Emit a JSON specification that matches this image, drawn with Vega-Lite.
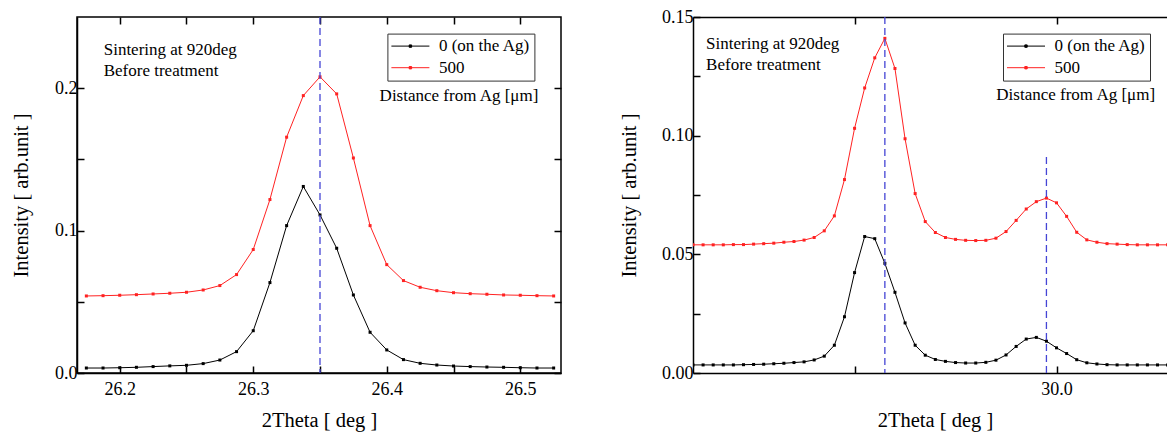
{
  "$schema": "https://vega.github.io/schema/vega-lite/v6.json",
  "padding": {"left": 10, "top": 8, "right": 0, "bottom": 0},
  "background": "white",
  "config": {
    "font": "Liberation Serif",
    "view": {"stroke": null},
    "axis": {
      "labelFont": "Liberation Serif", "labelFontSize": 18, "labelColor": "black",
      "titleFont": "Liberation Serif", "titleFontSize": 20.5, "titleFontWeight": "normal", "titleColor": "black",
      "domainColor": "black", "domainWidth": 1.5, "tickColor": "black", "tickWidth": 1.5, "grid": false
    },
    "legend": {
      "labelFont": "Liberation Serif", "labelFontSize": 17, "labelColor": "black",
      "strokeColor": "#333333", "padding": 4, "rowPadding": 3.6
    },
    "text": {"font": "Liberation Serif", "fontSize": 17, "color": "black"}
  },
  "datasets": {
    "left": [
      {"theta": 26.175, "intensity": 0.0035, "sample": "0 (on the Ag)"},
      {"theta": 26.1875, "intensity": 0.0035, "sample": "0 (on the Ag)"},
      {"theta": 26.2, "intensity": 0.0037, "sample": "0 (on the Ag)"},
      {"theta": 26.2125, "intensity": 0.004, "sample": "0 (on the Ag)"},
      {"theta": 26.225, "intensity": 0.0045, "sample": "0 (on the Ag)"},
      {"theta": 26.2375, "intensity": 0.005, "sample": "0 (on the Ag)"},
      {"theta": 26.25, "intensity": 0.0054, "sample": "0 (on the Ag)"},
      {"theta": 26.2625, "intensity": 0.0066, "sample": "0 (on the Ag)"},
      {"theta": 26.275, "intensity": 0.0091, "sample": "0 (on the Ag)"},
      {"theta": 26.2875, "intensity": 0.015, "sample": "0 (on the Ag)"},
      {"theta": 26.3, "intensity": 0.0297, "sample": "0 (on the Ag)"},
      {"theta": 26.3125, "intensity": 0.0635, "sample": "0 (on the Ag)"},
      {"theta": 26.325, "intensity": 0.1035, "sample": "0 (on the Ag)"},
      {"theta": 26.3375, "intensity": 0.131, "sample": "0 (on the Ag)"},
      {"theta": 26.35, "intensity": 0.111, "sample": "0 (on the Ag)"},
      {"theta": 26.3625, "intensity": 0.0876, "sample": "0 (on the Ag)"},
      {"theta": 26.375, "intensity": 0.0548, "sample": "0 (on the Ag)"},
      {"theta": 26.3875, "intensity": 0.0286, "sample": "0 (on the Ag)"},
      {"theta": 26.4, "intensity": 0.0162, "sample": "0 (on the Ag)"},
      {"theta": 26.4125, "intensity": 0.0094, "sample": "0 (on the Ag)"},
      {"theta": 26.425, "intensity": 0.0068, "sample": "0 (on the Ag)"},
      {"theta": 26.4375, "intensity": 0.0056, "sample": "0 (on the Ag)"},
      {"theta": 26.45, "intensity": 0.0049, "sample": "0 (on the Ag)"},
      {"theta": 26.4625, "intensity": 0.0045, "sample": "0 (on the Ag)"},
      {"theta": 26.475, "intensity": 0.0042, "sample": "0 (on the Ag)"},
      {"theta": 26.4875, "intensity": 0.004, "sample": "0 (on the Ag)"},
      {"theta": 26.5, "intensity": 0.0037, "sample": "0 (on the Ag)"},
      {"theta": 26.5125, "intensity": 0.0035, "sample": "0 (on the Ag)"},
      {"theta": 26.525, "intensity": 0.0035, "sample": "0 (on the Ag)"},
      {"theta": 26.175, "intensity": 0.0541, "sample": "500"},
      {"theta": 26.1875, "intensity": 0.0543, "sample": "500"},
      {"theta": 26.2, "intensity": 0.0546, "sample": "500"},
      {"theta": 26.2125, "intensity": 0.055, "sample": "500"},
      {"theta": 26.225, "intensity": 0.0555, "sample": "500"},
      {"theta": 26.2375, "intensity": 0.056, "sample": "500"},
      {"theta": 26.25, "intensity": 0.0567, "sample": "500"},
      {"theta": 26.2625, "intensity": 0.0583, "sample": "500"},
      {"theta": 26.275, "intensity": 0.0614, "sample": "500"},
      {"theta": 26.2875, "intensity": 0.0691, "sample": "500"},
      {"theta": 26.3, "intensity": 0.0867, "sample": "500"},
      {"theta": 26.3125, "intensity": 0.1218, "sample": "500"},
      {"theta": 26.325, "intensity": 0.1656, "sample": "500"},
      {"theta": 26.3375, "intensity": 0.1948, "sample": "500"},
      {"theta": 26.35, "intensity": 0.208, "sample": "500"},
      {"theta": 26.3625, "intensity": 0.196, "sample": "500"},
      {"theta": 26.375, "intensity": 0.151, "sample": "500"},
      {"theta": 26.3875, "intensity": 0.1035, "sample": "500"},
      {"theta": 26.4, "intensity": 0.0761, "sample": "500"},
      {"theta": 26.4125, "intensity": 0.0649, "sample": "500"},
      {"theta": 26.425, "intensity": 0.0602, "sample": "500"},
      {"theta": 26.4375, "intensity": 0.0578, "sample": "500"},
      {"theta": 26.45, "intensity": 0.0564, "sample": "500"},
      {"theta": 26.4625, "intensity": 0.0557, "sample": "500"},
      {"theta": 26.475, "intensity": 0.0553, "sample": "500"},
      {"theta": 26.4875, "intensity": 0.0548, "sample": "500"},
      {"theta": 26.5, "intensity": 0.0546, "sample": "500"},
      {"theta": 26.5125, "intensity": 0.0543, "sample": "500"},
      {"theta": 26.525, "intensity": 0.0541, "sample": "500"}
    ],
    "right": [
      {"theta": 29.1, "intensity": 0.0034, "sample": "0 (on the Ag)"},
      {"theta": 29.125, "intensity": 0.0034, "sample": "0 (on the Ag)"},
      {"theta": 29.15, "intensity": 0.0034, "sample": "0 (on the Ag)"},
      {"theta": 29.175, "intensity": 0.0034, "sample": "0 (on the Ag)"},
      {"theta": 29.2, "intensity": 0.0034, "sample": "0 (on the Ag)"},
      {"theta": 29.225, "intensity": 0.0035, "sample": "0 (on the Ag)"},
      {"theta": 29.25, "intensity": 0.0036, "sample": "0 (on the Ag)"},
      {"theta": 29.275, "intensity": 0.0037, "sample": "0 (on the Ag)"},
      {"theta": 29.3, "intensity": 0.0039, "sample": "0 (on the Ag)"},
      {"theta": 29.325, "intensity": 0.0041, "sample": "0 (on the Ag)"},
      {"theta": 29.35, "intensity": 0.0044, "sample": "0 (on the Ag)"},
      {"theta": 29.375, "intensity": 0.0047, "sample": "0 (on the Ag)"},
      {"theta": 29.4, "intensity": 0.0055, "sample": "0 (on the Ag)"},
      {"theta": 29.425, "intensity": 0.0071, "sample": "0 (on the Ag)"},
      {"theta": 29.45, "intensity": 0.0117, "sample": "0 (on the Ag)"},
      {"theta": 29.475, "intensity": 0.0237, "sample": "0 (on the Ag)"},
      {"theta": 29.5, "intensity": 0.0423, "sample": "0 (on the Ag)"},
      {"theta": 29.525, "intensity": 0.0575, "sample": "0 (on the Ag)"},
      {"theta": 29.55, "intensity": 0.0566, "sample": "0 (on the Ag)"},
      {"theta": 29.575, "intensity": 0.0462, "sample": "0 (on the Ag)"},
      {"theta": 29.6, "intensity": 0.034, "sample": "0 (on the Ag)"},
      {"theta": 29.625, "intensity": 0.0211, "sample": "0 (on the Ag)"},
      {"theta": 29.65, "intensity": 0.0117, "sample": "0 (on the Ag)"},
      {"theta": 29.675, "intensity": 0.0075, "sample": "0 (on the Ag)"},
      {"theta": 29.7, "intensity": 0.0057, "sample": "0 (on the Ag)"},
      {"theta": 29.725, "intensity": 0.0049, "sample": "0 (on the Ag)"},
      {"theta": 29.75, "intensity": 0.0044, "sample": "0 (on the Ag)"},
      {"theta": 29.775, "intensity": 0.0042, "sample": "0 (on the Ag)"},
      {"theta": 29.8, "intensity": 0.0042, "sample": "0 (on the Ag)"},
      {"theta": 29.825, "intensity": 0.0045, "sample": "0 (on the Ag)"},
      {"theta": 29.85, "intensity": 0.0054, "sample": "0 (on the Ag)"},
      {"theta": 29.875, "intensity": 0.0076, "sample": "0 (on the Ag)"},
      {"theta": 29.9, "intensity": 0.0112, "sample": "0 (on the Ag)"},
      {"theta": 29.925, "intensity": 0.0143, "sample": "0 (on the Ag)"},
      {"theta": 29.95, "intensity": 0.015, "sample": "0 (on the Ag)"},
      {"theta": 29.975, "intensity": 0.0134, "sample": "0 (on the Ag)"},
      {"theta": 30.0, "intensity": 0.0106, "sample": "0 (on the Ag)"},
      {"theta": 30.025, "intensity": 0.0082, "sample": "0 (on the Ag)"},
      {"theta": 30.05, "intensity": 0.0056, "sample": "0 (on the Ag)"},
      {"theta": 30.075, "intensity": 0.0043, "sample": "0 (on the Ag)"},
      {"theta": 30.1, "intensity": 0.0038, "sample": "0 (on the Ag)"},
      {"theta": 30.125, "intensity": 0.0035, "sample": "0 (on the Ag)"},
      {"theta": 30.15, "intensity": 0.0034, "sample": "0 (on the Ag)"},
      {"theta": 30.175, "intensity": 0.0034, "sample": "0 (on the Ag)"},
      {"theta": 30.2, "intensity": 0.0034, "sample": "0 (on the Ag)"},
      {"theta": 30.225, "intensity": 0.0034, "sample": "0 (on the Ag)"},
      {"theta": 30.25, "intensity": 0.0034, "sample": "0 (on the Ag)"},
      {"theta": 30.275, "intensity": 0.0034, "sample": "0 (on the Ag)"},
      {"theta": 29.1, "intensity": 0.054, "sample": "500"},
      {"theta": 29.125, "intensity": 0.054, "sample": "500"},
      {"theta": 29.15, "intensity": 0.054, "sample": "500"},
      {"theta": 29.175, "intensity": 0.054, "sample": "500"},
      {"theta": 29.2, "intensity": 0.0541, "sample": "500"},
      {"theta": 29.225, "intensity": 0.0541, "sample": "500"},
      {"theta": 29.25, "intensity": 0.0543, "sample": "500"},
      {"theta": 29.275, "intensity": 0.0545, "sample": "500"},
      {"theta": 29.3, "intensity": 0.0547, "sample": "500"},
      {"theta": 29.325, "intensity": 0.0551, "sample": "500"},
      {"theta": 29.35, "intensity": 0.0554, "sample": "500"},
      {"theta": 29.375, "intensity": 0.056, "sample": "500"},
      {"theta": 29.4, "intensity": 0.0571, "sample": "500"},
      {"theta": 29.425, "intensity": 0.0599, "sample": "500"},
      {"theta": 29.45, "intensity": 0.0662, "sample": "500"},
      {"theta": 29.475, "intensity": 0.0815, "sample": "500"},
      {"theta": 29.5, "intensity": 0.1031, "sample": "500"},
      {"theta": 29.525, "intensity": 0.1201, "sample": "500"},
      {"theta": 29.55, "intensity": 0.1328, "sample": "500"},
      {"theta": 29.575, "intensity": 0.141, "sample": "500"},
      {"theta": 29.6, "intensity": 0.1283, "sample": "500"},
      {"theta": 29.625, "intensity": 0.0987, "sample": "500"},
      {"theta": 29.65, "intensity": 0.0756, "sample": "500"},
      {"theta": 29.675, "intensity": 0.0638, "sample": "500"},
      {"theta": 29.7, "intensity": 0.0592, "sample": "500"},
      {"theta": 29.725, "intensity": 0.0571, "sample": "500"},
      {"theta": 29.75, "intensity": 0.0563, "sample": "500"},
      {"theta": 29.775, "intensity": 0.0559, "sample": "500"},
      {"theta": 29.8, "intensity": 0.0558, "sample": "500"},
      {"theta": 29.825, "intensity": 0.0559, "sample": "500"},
      {"theta": 29.85, "intensity": 0.0568, "sample": "500"},
      {"theta": 29.875, "intensity": 0.0596, "sample": "500"},
      {"theta": 29.9, "intensity": 0.0643, "sample": "500"},
      {"theta": 29.925, "intensity": 0.0691, "sample": "500"},
      {"theta": 29.95, "intensity": 0.0722, "sample": "500"},
      {"theta": 29.975, "intensity": 0.0737, "sample": "500"},
      {"theta": 30.0, "intensity": 0.0717, "sample": "500"},
      {"theta": 30.025, "intensity": 0.066, "sample": "500"},
      {"theta": 30.05, "intensity": 0.0593, "sample": "500"},
      {"theta": 30.075, "intensity": 0.0561, "sample": "500"},
      {"theta": 30.1, "intensity": 0.0551, "sample": "500"},
      {"theta": 30.125, "intensity": 0.0545, "sample": "500"},
      {"theta": 30.15, "intensity": 0.0543, "sample": "500"},
      {"theta": 30.175, "intensity": 0.0541, "sample": "500"},
      {"theta": 30.2, "intensity": 0.054, "sample": "500"},
      {"theta": 30.225, "intensity": 0.054, "sample": "500"},
      {"theta": 30.25, "intensity": 0.054, "sample": "500"},
      {"theta": 30.275, "intensity": 0.054, "sample": "500"}
    ]
  },
  "resolve": {"legend": {"color": "independent"}, "scale": {"color": "independent"}},
  "spacing": 56,
  "hconcat": [
    {
      "width": 484,
      "height": 356,
      "view": {"stroke": "black", "strokeWidth": 1.5},
      "resolve": {"axis": {"x": "independent", "y": "independent"}},
      "layer": [
        {
          "data": {"name": "left"},
          "mark": {"type": "line", "strokeWidth": 1, "clip": true, "point": {"shape": "square", "size": 9, "filled": true}},
          "encoding": {
            "x": {
              "field": "theta", "type": "quantitative",
              "scale": {"domain": [26.168, 26.5305], "nice": false, "zero": false},
              "axis": {
                "orient": "bottom", "title": "2Theta [ deg ]",
                "values": [26.2, 26.25, 26.3, 26.35, 26.4, 26.45, 26.5],
                "labelExpr": "abs(datum.value*10 - round(datum.value*10)) < 0.001 ? format(datum.value, '.1f') : ''",
                "labelFont": "Liberation Serif",
                "tickSize": -7,
                "labelPadding": 14, "titlePadding": 12
              }
            },
            "y": {
              "field": "intensity", "type": "quantitative",
              "scale": {"domain": [0, 0.25], "nice": false, "zero": false},
              "axis": {
                "orient": "left", "title": "Intensity [ arb.unit ]",
                "values": [0, 0.05, 0.1, 0.15, 0.2],
                "labelExpr": "abs(datum.value*10 - round(datum.value*10)) < 0.001 ? format(datum.value, '.1f') : ''",
                "labelFont": "Liberation Serif",
                "tickSize": -7,
                "labelPadding": 7, "titlePadding": 23
              }
            },
            "color": {
              "field": "sample", "type": "nominal",
              "scale": {"domain": ["0 (on the Ag)", "500"], "range": ["#000000", "#ff2222"]},
              "legend": {
                "title": null, "orient": "none", "legendX": 310.4, "legendY": 16.6,
                "labelFont": "Liberation Serif", "labelFontSize": 17,
                "symbolType": "M-4.75,0L4.75,0M-0.3,-0.3L0.3,-0.3L0.3,0.3L-0.3,0.3Z",
                "symbolSize": 64, "symbolStrokeWidth": 1, "symbolOffset": 10.5, "labelOffset": 20
              }
            }
          }
        },
        {
          "data": {"values": [{}]},
          "mark": {"type": "text", "text": ["Sintering at 920deg", "Before treatment"], "font": "Liberation Serif", "fontSize": 17, "align": "left", "baseline": "alphabetic", "lineHeight": 21},
          "encoding": {
            "x": {"datum": 26.188, "type": "quantitative", "axis": null},
            "y": {
              "datum": 0.2231, "type": "quantitative",
              "axis": {
                "orient": "right", "title": null, "labels": false, "domain": false,
                "values": [0, 0.05, 0.1, 0.15, 0.2],
                "tickSize": -7
              }
            }
          }
        },
        {
          "data": {"values": [{}]},
          "mark": {"type": "text", "text": "Distance from Ag [μm]", "font": "Liberation Serif", "fontSize": 17, "align": "center", "baseline": "alphabetic"},
          "encoding": {
            "x": {"datum": 26.4541, "type": "quantitative", "axis": null},
            "y": {"datum": 0.1912, "type": "quantitative", "axis": null}
          }
        },
        {
          "data": {"values": [{}]},
          "mark": {"type": "rule", "color": "#4545d5", "strokeWidth": 1.3, "strokeDash": [7, 4]},
          "encoding": {
            "x": {
              "datum": 26.35, "type": "quantitative",
              "axis": {
                "orient": "top", "title": null, "labels": false, "domain": false,
                "values": [26.2, 26.25, 26.3, 26.35, 26.4, 26.45, 26.5],
                "tickSize": -7
              }
            }
          }
        }
      ]
    },
    {
      "width": 474,
      "height": 356,
      "resolve": {"axis": {"x": "independent", "y": "independent"}},
      "layer": [
        {
          "data": {"name": "right"},
          "mark": {"type": "line", "strokeWidth": 1, "clip": true, "point": {"shape": "square", "size": 9, "filled": true}},
          "encoding": {
            "x": {
              "field": "theta", "type": "quantitative",
              "scale": {"domain": [29.1, 30.2735], "nice": false, "zero": false},
              "axis": {
                "orient": "bottom", "title": "2Theta [ deg ]",
                "values": [29.5, 30.0],
                "labelExpr": "abs(datum.value - round(datum.value)) < 0.001 ? format(datum.value, '.1f') : ''",
                "labelFont": "Liberation Serif",
                "tickSize": -7,
                "labelPadding": 14, "titlePadding": 12, "titleX": 242
              }
            },
            "y": {
              "field": "intensity", "type": "quantitative",
              "scale": {"domain": [0, 0.15], "nice": false, "zero": false},
              "axis": {
                "orient": "left", "title": "Intensity [ arb.unit ]",
                "values": [0, 0.025, 0.05, 0.075, 0.1, 0.125, 0.15],
                "labelExpr": "abs(datum.value*20 - round(datum.value*20)) < 0.001 ? format(datum.value, '.2f') : ''",
                "labelFont": "Liberation Serif",
                "tickSize": -7,
                "labelPadding": 7, "titlePadding": 22
              }
            },
            "color": {
              "field": "sample", "type": "nominal",
              "scale": {"domain": ["0 (on the Ag)", "500"], "range": ["#000000", "#ff2222"]},
              "legend": {
                "title": null, "orient": "none", "legendX": 310, "legendY": 16.6,
                "labelFont": "Liberation Serif", "labelFontSize": 17,
                "symbolType": "M-4.75,0L4.75,0M-0.3,-0.3L0.3,-0.3L0.3,0.3L-0.3,0.3Z",
                "symbolSize": 64, "symbolStrokeWidth": 1, "symbolOffset": 10.5, "labelOffset": 20
              }
            }
          }
        },
        {
          "data": {"values": [{}]},
          "mark": {"type": "text", "text": ["Sintering at 920deg", "Before treatment"], "font": "Liberation Serif", "fontSize": 17, "align": "left", "baseline": "alphabetic", "lineHeight": 21},
          "encoding": {
            "x": {"datum": 29.1324, "type": "quantitative", "axis": null},
            "y": {"datum": 0.1367, "type": "quantitative", "axis": null}
          }
        },
        {
          "data": {"values": [{}]},
          "mark": {"type": "text", "text": "Distance from Ag [μm]", "font": "Liberation Serif", "fontSize": 17, "align": "center", "baseline": "alphabetic"},
          "encoding": {
            "x": {"datum": 30.0475, "type": "quantitative", "axis": null},
            "y": {"datum": 0.1149, "type": "quantitative", "axis": null}
          }
        },
        {
          "data": {"values": [{}]},
          "mark": {"type": "rule", "color": "#4545d5", "strokeWidth": 1.3, "strokeDash": [7, 4]},
          "encoding": {
            "x": {"datum": 29.975, "type": "quantitative", "axis": null},
            "y": {"datum": 0, "type": "quantitative", "axis": null},
            "y2": {"datum": 0.0924}
          }
        },
        {
          "data": {"values": [{}]},
          "mark": {"type": "rule", "color": "#4545d5", "strokeWidth": 1.3, "strokeDash": [7, 4]},
          "encoding": {
            "x": {
              "datum": 29.575, "type": "quantitative",
              "axis": {
                "orient": "top", "title": null, "labels": false, "domain": true,
                "values": [29.5, 30.0],
                "tickSize": -7
              }
            }
          }
        }
      ]
    }
  ]
}
